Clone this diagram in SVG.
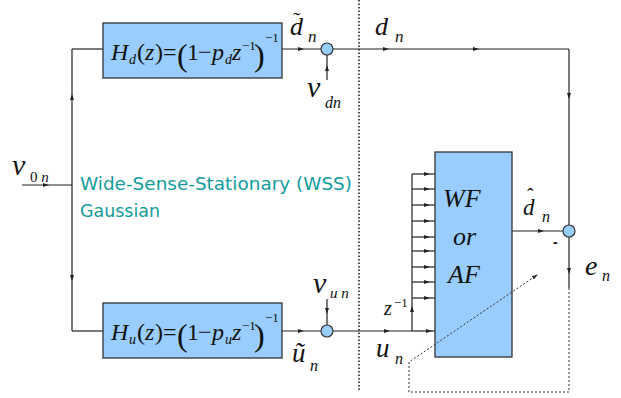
<svg xmlns="http://www.w3.org/2000/svg" width="621" height="398" viewBox="0 0 621 398">
<defs>
<style>
.ln{fill:none;stroke:#222;stroke-width:1.2;marker-mid:url(#a)}
.pl{fill:none;stroke:#222;stroke-width:1.2}
.box{fill:#99CCFF;stroke:#333;stroke-width:1.3}
.sum{fill:#99CCFF;stroke:#333;stroke-width:1.2}
.wss{font-family:'DejaVu Sans',sans-serif;font-size:18px;fill:#129c9c}
</style>
<marker id="a" viewBox="0 0 6 4" refX="4" refY="2" markerWidth="6" markerHeight="4" markerUnits="userSpaceOnUse" orient="auto">
<path d="M0,0L6,2L0,4z" fill="#222"/>
</marker>
<marker id="b" viewBox="0 0 6 4" refX="5" refY="2" markerWidth="6" markerHeight="4" markerUnits="userSpaceOnUse" orient="auto">
<path d="M0,0L6,2L0,4z" fill="#333"/>
</marker>
</defs>
<rect width="621" height="398" fill="#fff"/>

<g id="connectors">
<path class="ln" d="M22,185L47,185L72,185"/>
<path class="ln" d="M72,185L72,96L72,49"/>
<path class="pl" d="M72,49L103,49"/>
<path class="ln" d="M72,185L72,279L72,331"/>
<path class="pl" d="M72,331L103,331"/>
<path class="ln" d="M282,49L302,49L321,49"/>
<path class="ln" d="M327,80L327,67L327,55"/>
<path class="ln" d="M333,49L387,49L477,49L569,49"/>
<path class="ln" d="M569,49L569,97L569,225"/>
<path class="ln" d="M512,231L542,231L563,231"/>
<path class="ln" d="M569,237L569,272L569,288"/>
<path class="ln" d="M282,331L302,331L321,331"/>
<path class="ln" d="M327,299L327,312L327,325"/>
<path class="ln" d="M333,331L388,331L412,331"/>
<path class="ln" d="M412,331L430,331L435,331"/>
<path class="ln" d="M412,331L412,308L412,174"/>
<path class="ln" d="M412,174L428,174L435,174"/>
<path class="ln" d="M412,189L428,189L435,189"/>
<path class="ln" d="M412,205L428,205L435,205"/>
<path class="ln" d="M412,221L428,221L435,221"/>
<path class="ln" d="M412,237L428,237L435,237"/>
<path class="ln" d="M412,251L428,251L435,251"/>
<path class="ln" d="M412,267L428,267L435,267"/>
<path class="ln" d="M412,282L428,282L435,282"/>
<path class="ln" d="M412,298L428,298L435,298"/>
<path d="M359,0L359,392" fill="none" stroke="#111" stroke-width="1.5" stroke-dasharray="1.5,2"/>
</g>

<g font-family="Liberation Serif, Times New Roman, DejaVu Serif, serif" font-style="italic" fill="#111">
<g id="Hd">
<rect class="box" x="103" y="23" width="179" height="55"/>
<text font-size="24" y="60"><tspan x="111">H</tspan><tspan x="129" y="64" font-size="14">d</tspan><tspan font-style="normal" x="137" y="60">(</tspan><tspan x="145">z</tspan><tspan font-style="normal" x="155">)</tspan><tspan font-style="normal" x="163">=</tspan><tspan font-style="normal" x="177" y="66" font-size="32">(</tspan><tspan font-style="normal" x="187" y="60">1</tspan><tspan font-style="normal" x="198">−</tspan><tspan x="212">p</tspan><tspan x="225" y="64" font-size="14">d</tspan><tspan x="232" y="60">z</tspan><tspan font-style="normal" x="242" y="50" font-size="13">−1</tspan><tspan font-style="normal" x="254" y="66" font-size="32">)</tspan><tspan font-style="normal" x="265" y="42" font-size="13">−1</tspan></text>
</g>

<g id="Hu">
<rect class="box" x="103" y="303" width="179" height="55"/>
<text font-size="24" y="340"><tspan x="111">H</tspan><tspan x="129" y="344" font-size="14">u</tspan><tspan font-style="normal" x="137" y="340">(</tspan><tspan x="145">z</tspan><tspan font-style="normal" x="155">)</tspan><tspan font-style="normal" x="163">=</tspan><tspan font-style="normal" x="177" y="346" font-size="32">(</tspan><tspan font-style="normal" x="187" y="340">1</tspan><tspan font-style="normal" x="198">−</tspan><tspan x="212">p</tspan><tspan x="225" y="344" font-size="14">u</tspan><tspan x="232" y="340">z</tspan><tspan font-style="normal" x="242" y="330" font-size="13">−1</tspan><tspan font-style="normal" x="254" y="346" font-size="32">)</tspan><tspan font-style="normal" x="265" y="322" font-size="13">−1</tspan></text>
</g>

<g id="filter">
<rect class="box" x="435" y="152" width="77" height="205"/>
<text font-size="26" x="443" y="207">WF</text>
<text font-size="26" x="453" y="245">or</text>
<text font-size="26" x="448" y="283">AF</text>
</g>

<g id="sum-d"><circle class="sum" cx="327" cy="49" r="6"/></g>
<g id="sum-u"><circle class="sum" cx="327" cy="331" r="6"/></g>
<g id="sum-e"><circle class="sum" cx="569" cy="231" r="6"/></g>

<g id="feedback">
<path d="M569,288L569,392L409,392L409,362L537,275" fill="none" stroke="#333" stroke-width="1" stroke-dasharray="2,2" marker-end="url(#b)"/>
</g>

<g id="labels">
<text font-size="26" x="290" y="35">d</text>
<text font-style="normal" font-size="22" x="293" y="27">˜</text>
<text font-size="17" x="308" y="42">n</text>
<text font-size="26" x="375" y="35">d</text>
<text font-size="17" x="395" y="42">n</text>
<text font-size="30" x="307" y="97">v</text>
<text font-size="16" x="325" y="108">dn</text>
<text font-size="30" x="12" y="175">v</text>
<text font-size="15" x="30" y="182"><tspan font-style="normal">0</tspan> n</text>
<text font-size="23" x="523" y="215">d</text>
<text font-style="normal" font-size="20" x="527" y="203">ˆ</text>
<text font-size="16" x="542" y="222">n</text>
<text font-family="Liberation Sans, Arial, sans-serif" font-style="normal" font-weight="bold" font-size="14" x="553" y="247">-</text>
<text font-size="28" x="585" y="275">e</text>
<text font-size="16" x="602" y="281">n</text>
<text font-size="20" x="384" y="315">z</text>
<text font-style="normal" font-size="13" x="394" y="307">−1</text>
<text font-size="27" x="376" y="357">u</text>
<text font-size="16" x="395" y="364">n</text>
<text font-size="27" x="292" y="362">ũ</text>
<text font-size="16" x="310" y="371">n</text>
<text font-size="30" x="313" y="293">v</text>
<text font-size="15" x="330" y="298">u n</text>
<text class="wss" font-style="normal" x="80" y="190" textLength="272" lengthAdjust="spacingAndGlyphs">Wide-Sense-Stationary (WSS)</text>
<text class="wss" font-style="normal" x="80" y="217" textLength="80" lengthAdjust="spacingAndGlyphs">Gaussian</text>
</g>
</g>
</svg>
